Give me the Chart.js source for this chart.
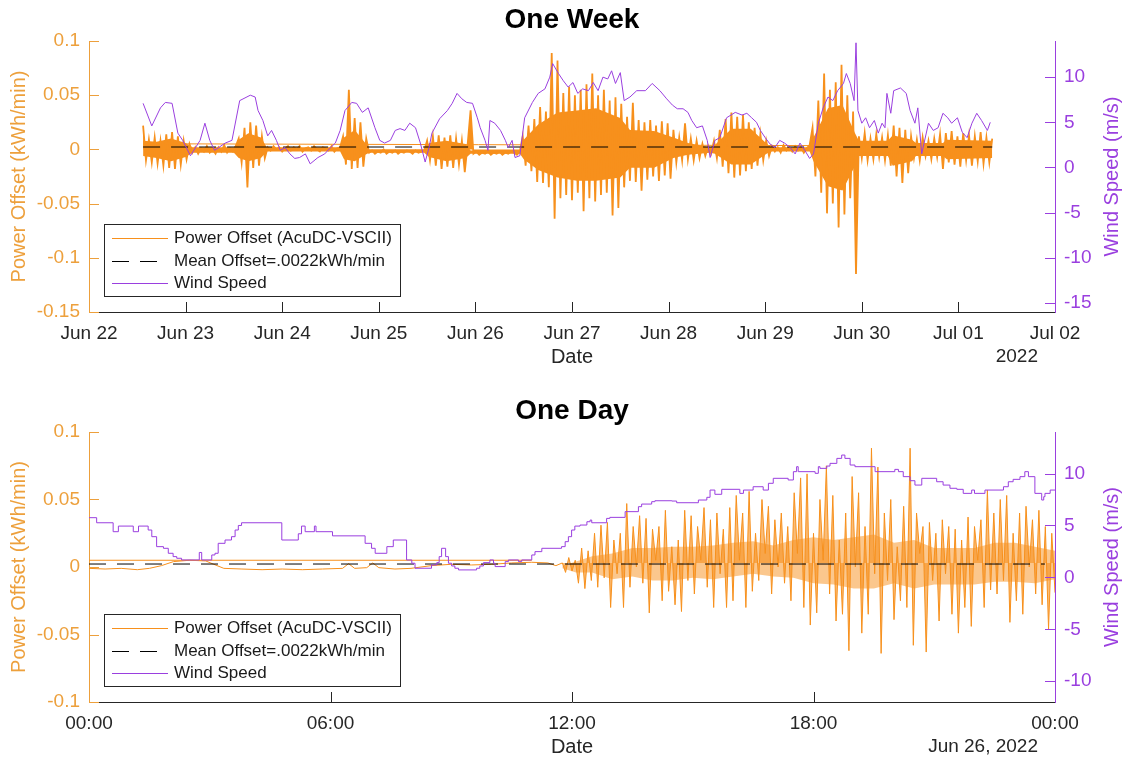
<!DOCTYPE html>
<html>
<head>
<meta charset="utf-8">
<script src="https://cdn.jsdelivr.net/npm/chart.js@4.4.1/dist/chart.umd.min.js"></script>
<style>
  html, body { margin: 0; padding: 0; background: #fff; }
  canvas { display: block; }
</style>
</head>
<body>
<canvas id="week" width="1127" height="380"></canvas>
<canvas id="day" width="1127" height="380"></canvas>
<script>
// ---------- data ----------
const weekTickLabels = ['Jun 22', 'Jun 23', 'Jun 24', 'Jun 25', 'Jun 26', 'Jun 27', 'Jun 28', 'Jun 29', 'Jun 30', 'Jul 01', 'Jul 02'];
const dayTickLabels = ['00:00', '06:00', '12:00', '18:00', '00:00'];
const meanOffset = 0.0022; // kWh/min

// one week, power offset in 1e-3 kWh/min, one value every 0.03 day from Jun 22 + 0.56 d
const weekPowerStart = 0.56;
const weekPowerStep = 0.03;
const weekPower = [
  22, -10, 9, -12, 11, -13, 8, -15, 14, -17, 16, -18, 12, -14, 8, -9, 5,
  -3, 2, -4, 1, -2, 3, -3, 0, -4, 2, -2, 4, -3, 1, -2, 3,
  10, -12, 20, -35, 25, -17, 22, -15, 12, -8,
  2, -1, 3, 0, 2, -2, 1, 3, -1, 2, 0, 3, -2, 1, 2, -1, 3, 0, -2, 2, 1, -1, 3, -2, 1, 2,
  12, -14, 55, -18, 29, -17, 25, -16, 10,
  -3, -1, -4, -2, -3, 0, -4, -2, -3, -1, -4, -2, -3, -1, -2, -4, -1, -3, -2, -1,
  8, -10, 12, -15, 13, -18, 11, -16, 13, -17, 10, -14, 8, -21, 5,
  36, -4, -2, -5, -3, -4, -2, -5, -3, -4, -2, -5, -3, -4, -2, -3, -5, -2,
  12, -15, 22, -20, 28, -30, 39, -31, 35, -35, 89, -64, 82, -45, 52, -42, 58, -47, 50, -40,
  55, -57, 60, -45, 70, -48, 50, -42, 55, -40, 45, -61, 48, -54, 42, -35, 30, -29, 43, -30,
  27, -38, 25, -28, 27, -25, 22, -29, 26, -24, 24, -27, 18, -12, 11, -10, 24, -9, 10, -10,
  8, -8, 5, -6, 3, -4,
  8, -8, 18, -16, 28, -22, 34, -26, 30, -24, 32, -20, 25, -18, 20, -15, 14, -10, 8, -6,
  3, -2, 2, -3, 4, -1, 2, -2, 3, -1, 2, -3, 1, 4,
  20, -25, 45, -40, 70, -59, 55, -50, 62, -72, 78, -60, 50, -45, 35, -115,
  12, -8, 15, -10, 10, -9, 14, -7, 11, -10, 13,
  -15, 22, -25, 20, -31, 18, -22, 12,
  -8, 9, -10, 11, -6, 8, -9, 10, -7, 14,
  -18, 15, -12, 17, -14, 12, -16, 15, -10, 13, -15, 12, -11, 16, -13, 11, -12, 10
];
// solid core of the minute trace, 1e-3 kWh/min
const weekCoreDay = [
  0.56, 0.7, 0.85, 1.0, 1.07, 1.5, 1.55, 1.65, 1.78, 1.84,
  2.6, 2.64, 2.75, 2.86, 2.9, 3.47, 3.52, 3.7, 3.9, 3.95,
  4.46, 4.5, 4.65, 4.85, 5.05, 5.25, 5.5, 5.6, 5.85, 6.05,
  6.2, 6.43, 6.48, 6.65, 6.85, 7.03, 7.07, 7.46, 7.5, 7.65,
  7.8, 7.93, 7.97, 8.27, 8.32, 8.52, 8.56, 8.84, 8.88, 9.35
];
const weekCoreHigh = [
  8, 7, 10, 6, 2, 2, 9, 15, 11, 2,
  2, 11, 18, 6, 0, 0, 6, 8, 5, -1,
  -1, 9, 23, 34, 36, 38, 29, 18, 17, 11,
  6, 2, 4, 19, 19, 4, 2, 2, 11, 38,
  41, 15, 8, 8, 13, 9, 6, 6, 9, 8
];
const weekCoreLow = [
  -6, -8, -11, -7, -3, -3, -8, -11, -8, -2,
  -2, -9, -11, -5, -3, -3, -7, -11, -8, -4,
  -4, -9, -19, -26, -29, -29, -26, -17, -17, -8,
  -5, -3, -4, -14, -14, -3, -2, -2, -11, -34,
  -38, -15, -6, -6, -15, -11, -6, -6, -9, -8
];
// flat power trace running back across the week
const weekFlatDay = [0.56, 7.5];
const weekFlatPower = [5.2, 3.5];

const weekWindDay = [
  0.56, 0.65, 0.74, 0.79, 0.86, 0.92, 0.97, 1.05, 1.15, 1.2,
  1.25, 1.3, 1.41, 1.48, 1.56, 1.67, 1.72, 1.75, 1.8, 1.85,
  1.89, 1.94, 1.98, 2.03, 2.08, 2.13, 2.18, 2.24, 2.29, 2.37,
  2.44, 2.5, 2.55, 2.6, 2.65, 2.72, 2.77, 2.83, 2.89, 2.96,
  3.01, 3.06, 3.12, 3.17, 3.22, 3.27, 3.32, 3.38, 3.43, 3.48,
  3.52, 3.55, 3.63, 3.71, 3.76, 3.81, 3.86, 3.91, 3.97, 4.02,
  4.05, 4.1, 4.13, 4.15, 4.2, 4.26, 4.31, 4.34, 4.38, 4.41,
  4.46, 4.51, 4.59, 4.65, 4.72, 4.77, 4.8, 4.86, 4.91, 4.96,
  5.01, 5.06, 5.11, 5.17, 5.22, 5.27, 5.32, 5.37, 5.41, 5.45,
  5.5, 5.54, 5.6, 5.67, 5.76, 5.83, 5.91, 5.98, 6.04, 6.09,
  6.15, 6.2, 6.24, 6.29, 6.35, 6.4, 6.43,
  6.48, 6.53, 6.6, 6.69, 6.76, 6.81, 6.86, 6.91, 6.95, 7.0,
  7.05, 7.1, 7.15, 7.2, 7.26, 7.31, 7.36, 7.41, 7.46, 7.5,
  7.55, 7.6, 7.65, 7.7, 7.75, 7.81, 7.84, 7.88, 7.92, 7.94,
  7.96, 8.0, 8.04, 8.08, 8.13, 8.17, 8.21, 8.24, 8.26, 8.3,
  8.33, 8.4, 8.46, 8.5, 8.55, 8.58, 8.62, 8.69, 8.74, 8.79,
  8.84, 8.89, 8.93, 8.99, 9.04, 9.09, 9.14, 9.19, 9.24, 9.3,
  9.33
];
const weekWindSpeed = [
  7.1, 4.6, 6.6, 7.2, 7.1, 3.8, 3.0, 1.3, 3.0, 4.9,
  3.0, 1.9, 2.7, 3.0, 7.4, 8.0, 7.8, 6.3, 5.2, 3.5,
  4.1, 3.0, 1.9, 2.2, 1.5, 1.0, 1.1, 1.5, 0.4, 1.1,
  1.5, 2.2, 2.7, 4.1, 6.3, 7.2, 7.1, 6.1, 6.6, 4.4,
  3.0, 2.7, 3.0, 4.1, 4.3, 4.1, 4.9, 4.4, 2.7, 0.6,
  2.2, 3.8, 5.4, 6.3, 7.1, 8.2, 7.6, 7.2, 7.1, 5.5,
  4.4, 3.0, 1.9, 5.2, 4.9, 4.1, 3.0, 2.2, 3.0, 1.1,
  1.3, 5.5, 7.2, 8.2, 8.7, 10.0, 11.5, 10.4, 9.6, 8.9,
  9.4, 8.2, 8.7, 8.5, 9.4, 8.5, 10.0, 9.8, 10.7, 9.3,
  10.5, 7.4, 7.8, 8.5, 8.5, 9.3, 8.5, 7.6, 6.9, 6.5,
  6.5, 6.1, 5.2, 4.4, 4.6, 3.0, 1.1,
  3.0, 3.3, 5.5, 6.1, 5.8, 6.0, 5.5, 5.0, 4.1, 3.3,
  2.6, 2.2, 3.0, 2.7, 2.2, 1.5, 2.7, 1.9, 1.0, 1.5,
  4.9, 6.6, 7.8, 7.4, 8.5, 9.3, 10.4, 9.3, 7.4, 13.8,
  6.3, 4.9, 5.5, 4.4, 5.2, 3.8, 4.9, 4.4, 8.2, 6.0,
  8.5, 8.8, 8.2, 6.3, 4.9, 6.6, 1.5, 4.9, 4.1, 4.4,
  6.0, 5.5, 4.9, 5.5, 3.9, 3.3, 4.9, 6.0, 5.2, 4.1,
  5.0
];

// one day (Jun 26), power offset in 1e-3 kWh/min
const dayCalmHour = [0, 0.4, 0.8, 1.2, 1.5, 1.8, 2.1, 2.5, 2.9, 3.1, 3.35, 3.8, 4.3, 4.8, 5.3, 5.8, 6.3, 6.45, 6.6, 6.9, 7.05, 7.2, 7.6, 8.0, 8.5, 9.0, 9.5, 10.0, 10.5, 11.0, 11.4, 11.6];
const dayCalmPower = [-1, -1.5, -1, -2, -1, 1, 4, 5, 4.5, 2, -1, -1.5, -2, -1.5, -2, -1.5, -1, 2.5, -1, -0.5, 3, -0.5, -1.5, -1, 1, 2, 1.5, 2, 3, 3.5, 3, 1];
// from 11:45 on, one value every 0.08 h
const dayBurstStart = 11.76;
const dayBurstStep = 0.08;
const dayBurstPower = [
  3, -4, 7, -3, 5,
  -12, 14, -16, 12,
  -10, 25, -15, 31, -8,
  33, -30, 20, -5, 25, -30,
  47, -15, 30, 0, 38, -12,
  36, -34, 28, 5, 30, -25,
  42, -18, 15, -28, 20, -33,
  42, -10, 38, -20, 30, 5,
  44, -15, 35, -30, 40, -5, 28, -30, 44,
  -25, 53, 5, 40, -30,
  56, -18, 25, -10, 50, 10,
  45, -20, 35, 0, 40, -12,
  30, -25, 55, 10, 66, -30,
  69, -43, 25, -34, 50, 5,
  75, -20, 53, -40, 20, -35,
  40, -62, 67, 0, 55, -49,
  30, -35, 88, -5, 74, -64,
  40, -10, 50, -39, 15, -25,
  45, -30, 88, -58, 40, 10,
  30, -63, 33, -10, 25, -40,
  35, -5, 30, -35, 28, -49,
  20, -30, 37, -44, 30, 5,
  35, -30, 57, -17, 40, -20,
  50, -10, 53, -41, 25, -25,
  40, -35, 45, 0, 35, -20,
  42, -28, 30, -46, 25, -19
];
const dayCoreHour = [11.76, 12.1, 12.5, 13.0, 13.5, 14.0, 14.5, 15.0, 15.5, 16.0, 16.5, 17.0, 17.5, 18.0, 18.5, 19.0, 19.5, 20.0, 20.5, 21.0, 21.5, 22.0, 22.5, 23.0, 23.5, 24.0];
const dayCoreHigh = [1, 4, 8, 10, 14, 14, 15, 15, 16, 18, 19, 16, 20, 22, 20, 22, 24, 18, 20, 14, 14, 14, 18, 18, 15, 12];
const dayCoreLow = [-1, -4, -4, -9, -7, -10, -10, -8, -9, -7, -5, -7, -8, -12, -13, -16, -16, -12, -16, -13, -13, -13, -11, -11, -12, -9];
const dayFlatHour = [0, 11];
const dayFlatPower = [5, 5];

const dayWindHour = [
  0, 0.19, 0.6, 0.73, 1.1, 1.23, 1.47, 1.56, 1.68, 1.85,
  1.97, 2.09, 2.18, 2.3, 2.74, 2.8, 3.05, 3.13, 3.21, 3.38,
  3.54, 3.63, 3.71, 3.79, 4.79, 5.2, 5.28, 5.37, 5.6, 5.64,
  6.05, 6.86, 7.02, 7.11, 7.4, 7.56, 7.89, 8.02, 8.1, 8.51,
  8.64, 8.7, 8.76, 8.86, 8.93, 9.01, 9.09, 9.18, 9.63, 9.71,
  9.8, 9.96, 10.05, 10.09, 10.34, 10.42, 10.67, 10.75, 11.0, 11.08,
  11.25, 11.74, 11.83, 11.91, 11.99, 12.07, 12.2, 12.37, 12.45, 12.49,
  12.86, 12.94, 13.32, 13.65, 13.73, 13.98, 14.06, 14.48, 14.6, 15.14,
  15.35, 15.43, 15.55, 15.72, 16.17, 16.26, 16.5, 16.75, 16.88, 17.0,
  17.37, 17.5, 17.58, 17.62, 18.04, 18.12, 18.16, 18.33, 18.41, 18.58,
  18.7, 18.78, 18.91, 19.03, 19.53, 20.02, 20.11, 20.23, 20.4, 20.52,
  20.69, 21.06, 21.22, 21.39, 21.56, 21.72, 21.93, 22.0, 22.26, 22.72,
  22.84, 22.96, 23.13, 23.25, 23.34, 23.5, 23.67, 23.72, 23.75, 23.88,
  24.0
];
const dayWindSpeed = [
  5.75, 5.26, 4.4, 4.94, 4.4, 4.94, 4.56, 3.92, 2.96, 2.8,
  2.32, 2.0, 1.84, 1.68, 2.4, 1.68, 2.16, 2.32, 3.28, 3.6,
  3.92, 4.56, 5.0, 5.26, 3.6, 4.2, 4.94, 4.4, 4.94, 4.4,
  4.0, 3.28, 2.8, 2.32, 2.96, 3.6, 1.68, 1.36, 0.88, 1.2,
  1.42, 2.0, 2.8, 2.0, 1.36, 1.1, 0.88, 0.72, 0.88, 1.1,
  1.42, 1.68, 1.36, 1.04, 1.52, 1.68, 1.52, 1.68, 2.16, 2.48,
  2.8, 2.96, 3.44, 3.92, 4.56, 4.94, 5.04, 5.36, 5.52, 5.26,
  5.68, 5.78, 6.33, 6.81, 7.06, 7.29, 7.38, 7.35, 7.19, 7.45,
  7.71, 8.41, 8.0, 8.48, 8.09, 8.41, 8.73, 8.41, 9.06, 9.54,
  9.38, 10.18, 10.66, 10.18, 10.02, 10.66, 10.5, 10.72, 10.98, 11.46,
  11.78, 11.46, 10.82, 10.66, 10.18, 10.4, 10.18, 9.7, 9.31, 8.89,
  9.54, 9.21, 8.89, 8.58, 8.48, 8.09, 8.41, 8.09, 8.41, 8.73,
  9.21, 9.44, 9.7, 10.18, 9.7, 8.09, 7.45, 7.77, 8.09, 8.41,
  8.41
];

// ---------- styling ----------
const FONT = "'Liberation Sans', Arial, Helvetica, sans-serif";
const ORANGE_LINE = '#F7901C';
const ORANGE_AXIS = '#EDA03C';
const PURPLE = '#9A3FDF';
const DARK = '#262626';
const W = 1127, H = 380;
const PLOT_LEFT = 89, PLOT_RIGHT = 1055;

const pairs = (xs, ys, k) => xs.map((x, i) => ({ x: x, y: ys[i] * k }));

// draws what MATLAB puts around the axes: inward ticks, titles, labels and the legend box
const decor = {
  id: 'decor',
  afterDraw(chart, args, o) {
    const { ctx, chartArea: a, scales } = chart;
    ctx.save();
    ctx.lineWidth = 1;

    const tickMarks = (scale, color, fn) => {
      ctx.strokeStyle = color;
      ctx.beginPath();
      scale.ticks.forEach(t => fn(Math.round(scale.getPixelForValue(t.value)) + 0.5, t.value));
      ctx.stroke();
    };
    tickMarks(scales.x, DARK, (p, v) => {
      if (v <= scales.x.min || v >= scales.x.max) return;
      ctx.moveTo(p, a.bottom); ctx.lineTo(p, a.bottom - 10);
    });
    tickMarks(scales.y, ORANGE_AXIS, p => { ctx.moveTo(a.left, p); ctx.lineTo(a.left + 10, p); });
    tickMarks(scales.y2, PURPLE, p => { ctx.moveTo(a.right, p); ctx.lineTo(a.right - 10, p); });

    const midX = (a.left + a.right) / 2;
    const midY = (a.top + a.bottom) / 2;
    ctx.textBaseline = 'middle';

    ctx.fillStyle = '#000';
    ctx.textAlign = 'center';
    ctx.font = 'bold 28px ' + FONT;
    ctx.fillText(o.title, midX, a.top - 21);

    ctx.fillStyle = DARK;
    ctx.font = '20px ' + FONT;
    ctx.fillText('Date', midX, a.bottom + 45);
    ctx.textAlign = 'right';
    ctx.font = '19px ' + FONT;
    ctx.fillText(o.extra, a.right - 17, a.bottom + 45);

    const vText = (txt, x, color) => {
      ctx.save();
      ctx.translate(x, midY);
      ctx.rotate(-Math.PI / 2);
      ctx.textAlign = 'center';
      ctx.fillStyle = color;
      ctx.font = '20px ' + FONT;
      ctx.fillText(txt, 0, 0);
      ctx.restore();
    };
    vText('Power Offset (kWh/min)', 19, ORANGE_AXIS);
    vText('Wind Speed (m/s)', 1112, PURPLE);

    // legend
    const bx = a.left + 15, bw = 296, bh = 72, by = a.bottom - 16 - bh;
    ctx.fillStyle = '#fff';
    ctx.fillRect(bx, by, bw, bh);
    ctx.strokeStyle = DARK;
    ctx.strokeRect(bx + 0.5, by + 0.5, bw, bh);
    const rows = [2, 1, 0].map(i => chart.data.datasets[i]);
    const rowY = [14, 37, 59];
    ctx.font = '17px ' + FONT;
    ctx.textAlign = 'left';
    ctx.lineWidth = 1;
    rows.forEach((ds, k) => {
      const y = Math.round(by + rowY[k]) + 0.5;
      ctx.strokeStyle = ds.borderColor;
      ctx.setLineDash(ds.borderDash || []);
      ctx.beginPath();
      ctx.moveTo(bx + 8, y); ctx.lineTo(bx + 64, y);
      ctx.stroke();
      ctx.setLineDash([]);
      ctx.fillStyle = '#1a1a1a';
      ctx.fillText(ds.label, bx + 70, y);
    });
    ctx.restore();
  }
};

function makeChart(id, c) {
  const tickFont = { size: 19, family: FONT };
  const noGrid = { display: false, drawTicks: false };
  return new Chart(document.getElementById(id), {
    type: 'line',
    data: {
      datasets: [
        { label: 'Wind Speed', data: c.wind, yAxisID: 'y2', borderColor: PURPLE, borderWidth: 1, stepped: c.stepped },
        { label: 'Mean Offset=.0022kWh/min', data: c.mean, yAxisID: 'y', borderColor: '#000', borderWidth: 1, borderDash: [17, 11] },
        {
          label: 'Power Offset (AcuDC-VSCII)', data: c.power, yAxisID: 'y',
          borderColor: ORANGE_LINE, borderWidth: c.traceWidth,
          // shade between the trace and its centre so the minute data reads as dense
          fill: { value: c.fillTo }, backgroundColor: ORANGE_LINE,
          segment: { backgroundColor: s => (s.p0.parsed.x < c.fillFrom ? 'rgba(0,0,0,0)' : c.traceFill) }
        },
        { label: 'flat', data: c.flat, yAxisID: 'y', borderColor: ORANGE_LINE, borderWidth: 1 },
        // solid core of the dense trace
        { label: 'core high', data: c.coreHigh, yAxisID: 'y', borderWidth: 0, fill: '+1', backgroundColor: c.coreColor },
        { label: 'core low', data: c.coreLow, yAxisID: 'y', borderWidth: 0, fill: false }
      ]
    },
    options: {
      responsive: false,
      animation: false,
      events: [],
      devicePixelRatio: 1,
      layout: { padding: { top: c.plotTop, left: 0, right: 0, bottom: 0 } },
      elements: { point: { radius: 0 }, line: { tension: 0 } },
      plugins: {
        legend: { display: false },
        tooltip: { enabled: false },
        title: { display: false },
        decor: { title: c.title, extra: c.extra }
      },
      scales: {
        x: {
          type: 'linear', position: 'bottom', min: c.xMin, max: c.xMax,
          afterBuildTicks: s => { s.ticks = c.xTicks.map(v => ({ value: v })); },
          afterFit: s => { s.height = H - c.plotBottom; },
          ticks: { autoSkip: false, maxRotation: 0, padding: 10, color: DARK, font: tickFont, callback: (v, i) => c.xLabels[i] },
          grid: noGrid,
          border: { display: true, color: DARK, width: 1 }
        },
        y: {
          type: 'linear', position: 'left', min: c.yMin, max: c.yMax,
          afterBuildTicks: s => { s.ticks = c.yTicks.map(v => ({ value: v })); },
          afterFit: s => { s.width = PLOT_LEFT; },
          ticks: { padding: 9, color: ORANGE_AXIS, font: tickFont, callback: v => String(+v.toFixed(3)) },
          grid: noGrid,
          border: { display: true, color: ORANGE_AXIS, width: 1 }
        },
        y2: {
          type: 'linear', position: 'right', min: c.y2Min, max: c.y2Max,
          afterBuildTicks: s => { s.ticks = c.y2Ticks.map(v => ({ value: v })); },
          afterFit: s => { s.width = W - PLOT_RIGHT; },
          ticks: { padding: 9, color: PURPLE, font: tickFont, callback: v => String(v) },
          grid: noGrid,
          border: { display: true, color: PURPLE, width: 1 }
        }
      }
    },
    plugins: [decor]
  });
}

makeChart('week', {
  title: 'One Week', extra: '2022', plotTop: 41, plotBottom: 312,
  xMin: 0, xMax: 10, xTicks: [0, 1, 2, 3, 4, 5, 6, 7, 8, 9, 10], xLabels: weekTickLabels,
  yMin: -0.15, yMax: 0.1, yTicks: [-0.15, -0.1, -0.05, 0, 0.05, 0.1],
  y2Min: -16, y2Max: 14, y2Ticks: [-15, -10, -5, 0, 5, 10],
  stepped: false, fillTo: 0, fillFrom: 0, traceWidth: 1.8, traceFill: ORANGE_LINE, coreColor: ORANGE_LINE,
  wind: pairs(weekWindDay, weekWindSpeed, 1),
  mean: [{ x: 0.56, y: meanOffset }, { x: 9.35, y: meanOffset }],
  power: weekPower.map((v, i) => ({ x: weekPowerStart + i * weekPowerStep, y: v / 1000 })),
  flat: pairs(weekFlatDay, weekFlatPower, 0.001),
  coreHigh: pairs(weekCoreDay, weekCoreHigh, 0.001),
  coreLow: pairs(weekCoreDay, weekCoreLow, 0.001)
});

makeChart('day', {
  title: 'One Day', extra: 'Jun 26, 2022', plotTop: 52, plotBottom: 322,
  xMin: 0, xMax: 24, xTicks: [0, 6, 12, 18, 24], xLabels: dayTickLabels,
  yMin: -0.1, yMax: 0.1, yTicks: [-0.1, -0.05, 0, 0.05, 0.1],
  y2Min: -12, y2Max: 14, y2Ticks: [-10, -5, 0, 5, 10],
  stepped: 'before', fillTo: 0.003, fillFrom: dayBurstStart, traceWidth: 1,
  traceFill: 'rgba(247,144,28,0.6)', coreColor: 'rgba(247,144,28,0.5)',
  wind: pairs(dayWindHour, dayWindSpeed, 1),
  mean: [{ x: 0, y: meanOffset }, { x: 23.75, y: meanOffset }],
  power: pairs(dayCalmHour, dayCalmPower, 0.001).concat(
    dayBurstPower.map((v, i) => ({ x: dayBurstStart + i * dayBurstStep, y: v / 1000 }))),
  flat: pairs(dayFlatHour, dayFlatPower, 0.001),
  coreHigh: pairs(dayCoreHour, dayCoreHigh, 0.001),
  coreLow: pairs(dayCoreHour, dayCoreLow, 0.001)
});
</script>
</body>
</html>
